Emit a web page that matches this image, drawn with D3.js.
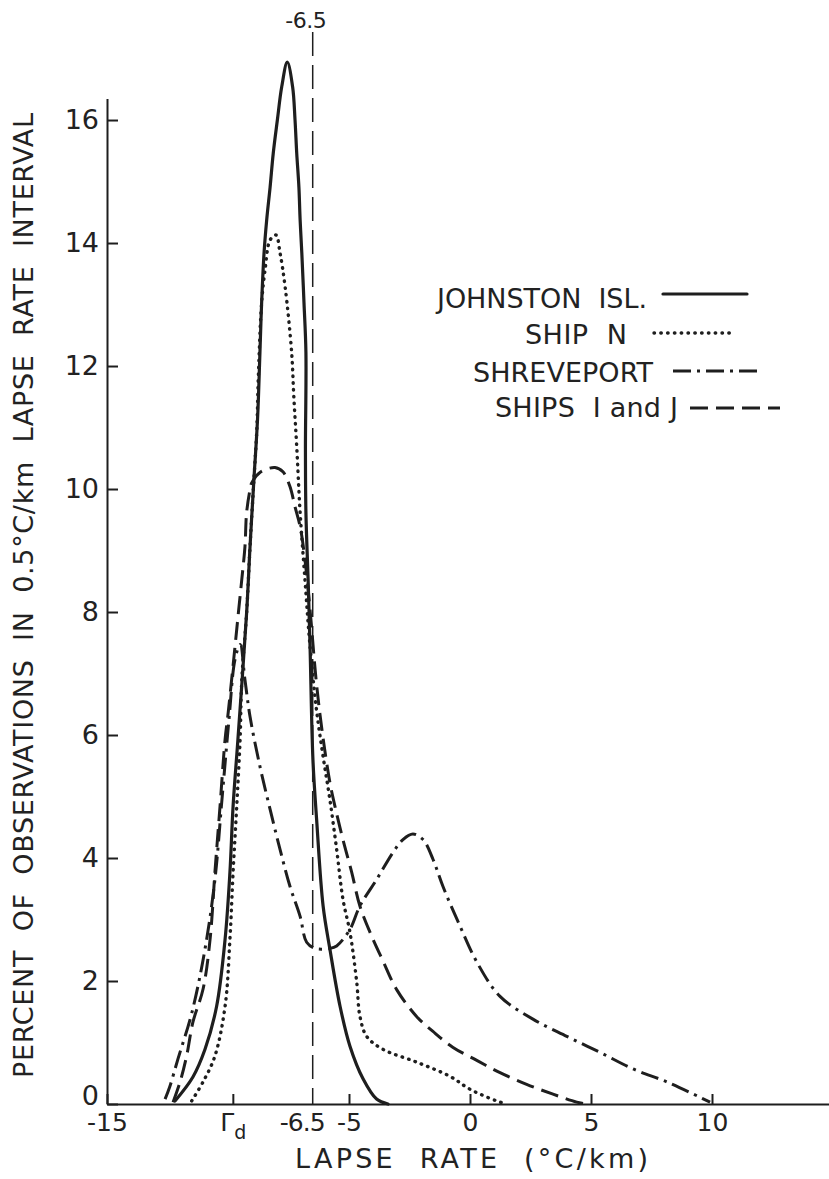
<!DOCTYPE html>
<html><head><meta charset="utf-8">
<script src="https://cdn.jsdelivr.net/npm/d3@7/dist/d3.min.js"></script>
<style>
html,body{margin:0;padding:0;background:#fff;}
svg{display:block;font-family:"DejaVu Sans",sans-serif;}
text{fill:#222;}
</style></head><body>
<svg id="chart" width="829" height="1179"></svg>
<script>
// ---------- DATA ----------
const xTickValues = [-15, -9.8, -6.5, -5, 0, 5, 10];
const xTickLabels = ["-15", "Γd", "-6.5", "-5", "0", "5", "10"];
const yTickValues = [0, 2, 4, 6, 8, 10, 12, 14, 16];
const yTickLabels = ["0", "2", "4", "6", "8", "10", "12", "14", "16"];
const seriesNames = ["JOHNSTON  ISL.", "SHIP  N", "SHREVEPORT", "SHIPS  I and J"];
const referenceRate = -6.5;
const referenceLabel = "-6.5";
const xTitle = "LAPSE  RATE  (°C/km)";
const yTitle = "PERCENT  OF  OBSERVATIONS  IN  0.5°C/km  LAPSE  RATE  INTERVAL";

// Johnston Isl. (solid)
const johnstonRate = [-12.19,-11.45,-10.95,-10.47,-10.12,-9.92,-9.79,-9.59,-9.23,-9.09,-8.93,-8.78,-8.68,-8.61,-8.51,-8.4,-8.26,-8.13,-7.96,-7.78,-7.55,-7.33,-7.23,-7.16,-7.07,-7.02,-6.95,-6.86,-6.78,-6.8,-6.78,-6.69,-6.61,-6.49,-6.33,-6.07,-5.79,-5.37,-4.96,-4.42,-3.86,-3.39];
const johnstonPct  = [0.05,0.44,0.89,1.59,2.68,3.77,4.84,5.93,7.99,9.06,10.15,11.13,12.22,13.03,13.84,14.38,14.91,15.46,16.0,16.54,16.94,16.54,16.0,15.46,14.91,14.38,13.84,13.03,12.22,10.64,9.62,8.53,7.44,5.6,4.58,3.22,2.52,1.59,0.94,0.41,0.08,0];

// Ship N (dotted)
const shipNRate = [-11.5,-11.03,-10.54,-10.12,-9.92,-9.79,-9.64,-9.5,-9.43,-9.23,-9.09,-8.93,-8.81,-8.75,-8.61,-8.47,-8.26,-8.02,-7.85,-7.64,-7.37,-7.28,-7.16,-7.02,-6.82,-6.61,-6.33,-6.07,-5.79,-5.51,-5.25,-4.96,-4.68,-4.55,-4.27,-3.6,-2.2,-0.83,0,1.1,1.52];
const shipNPct  = [0.05,0.36,0.78,1.59,2.68,3.77,4.84,5.93,6.9,7.99,9.06,10.15,10.96,11.78,13.03,13.56,14.05,14.13,13.84,13.29,12.22,11.5,10.69,9.62,8.53,7.44,6.37,5.65,4.95,4.14,3.33,2.79,1.98,1.43,1.1,0.89,0.68,0.45,0.24,0.05,0];

// Shreveport (dash-dot)
const shreveRate = [-12.6,-12.4,-12.07,-11.49,-10.95,-10.54,-10.25,-9.96,-9.71,-9.5,-9.3,-9.09,-8.68,-8.26,-7.85,-7.44,-7.02,-6.75,-6.4,-5.79,-5.51,-4.96,-4.55,-3.86,-3.18,-2.77,-2.36,-1.94,-1.53,-1.12,-0.41,0.28,1.24,2.6,4.0,5.37,6.74,8.13,9.5,9.92];
const shrevePct  = [0.08,0.29,0.73,1.49,2.52,3.65,4.95,6.25,7.23,7.47,6.9,6.3,5.49,4.79,4.14,3.54,3.05,2.63,2.53,2.53,2.57,2.84,3.22,3.65,4.09,4.3,4.39,4.3,3.98,3.54,2.89,2.31,1.75,1.38,1.1,0.84,0.57,0.36,0.11,0.03];

// Ships I and J (dashed)
const shipsIJRate = [-12.27,-11.98,-11.71,-11.45,-11.03,-10.74,-10.54,-10.33,-10.12,-9.99,-9.85,-9.71,-9.57,-9.43,-9.3,-9.23,-9.09,-9.02,-8.68,-8.06,-7.73,-7.44,-7.23,-7.02,-6.82,-6.61,-6.36,-6.12,-5.79,-5.58,-5.25,-4.89,-4.55,-4.13,-3.6,-3.03,-2.2,-1.53,-0.7,0.28,1.24,2.34,3.43,4.41,4.82];
const shipsIJPct  = [0.03,0.36,0.78,1.33,1.87,2.68,3.77,4.84,5.93,6.37,6.9,7.44,7.99,8.53,9.06,9.62,9.99,10.1,10.27,10.35,10.28,10.04,9.71,9.39,8.85,8.04,6.9,6.09,5.23,4.84,4.3,3.77,3.22,2.79,2.33,1.86,1.42,1.18,0.92,0.71,0.51,0.32,0.16,0.03,0];

// ---------- DRAW ----------
const ink = "#1e1e1e";
const svg = d3.select("#chart");
svg.append("rect").attr("width", 829).attr("height", 1179).attr("fill", "#fff");

const x = d3.scaleLinear().domain([-15, 15]).range([107, 833]);
const y = d3.scaleLinear().domain([0, 16.35]).range([1104, 98.5]);

// x axis
const gx = svg.append("g").attr("transform", `translate(0,${y(0)})`)
  .call(d3.axisBottom(x).tickValues(xTickValues).tickSize(-10).tickSizeOuter(0).tickPadding(9)
    .tickFormat((d, i) => xTickLabels[i]));
gx.attr("font-size", 25);
gx.selectAll("text").attr("font-size", 25).attr("font-family", "DejaVu Sans").attr("fill", ink);
gx.selectAll(".tick").filter(d => d === referenceRate).select("line").remove();
gx.selectAll(".tick").filter(d => d === referenceRate).select("text").attr("dx", -11).attr("letter-spacing", -1);
gx.selectAll(".tick").filter(d => d === -9.8).select("text").each(function() {
  const t = d3.select(this); const s = t.text(); t.text("");
  t.append("tspan").text(s[0]);
  t.append("tspan").attr("font-size", 19).attr("dy", 8).text(s.slice(1));
});
// y axis
const gy = svg.append("g").attr("transform", `translate(${x(-15)},0)`)
  .call(d3.axisLeft(y).tickValues(yTickValues).tickSize(-11).tickSizeOuter(0).tickPadding(8)
    .tickFormat((d, i) => yTickLabels[i]));
gy.attr("font-size", 27);
gy.selectAll("text").attr("font-size", 27).attr("font-family", "DejaVu Sans").attr("fill", ink);
gy.selectAll(".tick").filter(d => d === 0).select("text").attr("dy", "0em");
[gx, gy].forEach(g => {
  g.select(".domain").attr("stroke", ink).attr("stroke-width", 2);
  g.selectAll(".tick line").attr("stroke", ink).attr("stroke-width", 2);
});

// reference line at -6.5
svg.append("line").attr("x1", x(referenceRate)).attr("x2", x(referenceRate))
  .attr("y1", 32).attr("y2", y(0)).attr("stroke", ink).attr("stroke-width", 1.5)
  .attr("stroke-dasharray", "24 9");
svg.append("text").attr("x", x(referenceRate) - 7).attr("y", 28).attr("text-anchor", "middle")
  .attr("font-size", 22).attr("letter-spacing", -0.5).text(referenceLabel);

// curves
const line = d3.line().x(d => x(d[0])).y(d => y(d[1])).curve(d3.curveCatmullRom.alpha(0.5));
const styles = [
  {dash: null, w: 3.2, cap: "round"},
  {dash: "0.5 6.3", w: 3.4, cap: "round"},
  {dash: "18 6 3 6", w: 3, cap: "butt"},
  {dash: "18 8", w: 3, cap: "butt"}
];
const series = [
  d3.zip(johnstonRate, johnstonPct),
  d3.zip(shipNRate, shipNPct),
  d3.zip(shreveRate, shrevePct),
  d3.zip(shipsIJRate, shipsIJPct)
];
series.forEach((s, i) => {
  svg.append("path").datum(s).attr("d", line).attr("fill", "none")
    .attr("stroke", ink).attr("stroke-width", styles[i].w)
    .attr("stroke-linecap", styles[i].cap).attr("stroke-linejoin", "round")
    .attr("stroke-dasharray", styles[i].dash);
});

// legend
const legTextRight = [647, 627, 653, 678];
const legTextWidth = [210, 102, 180, 183];
const legBaseline = [308, 344, 382, 417];
const legX1 = [663, 654, 673, 690];
const legX2 = [747, 733, 757, 780];
const legY = [294, 333, 371, 408];
seriesNames.forEach((n, i) => {
  svg.append("text").attr("x", legTextRight[i] - legTextWidth[i]).attr("y", legBaseline[i])
    .attr("font-size", 27).style("white-space", "pre")
    .attr("textLength", legTextWidth[i]).attr("lengthAdjust", "spacing").text(n);
  svg.append("line").attr("x1", legX1[i]).attr("x2", legX2[i]).attr("y1", legY[i]).attr("y2", legY[i])
    .attr("stroke", ink).attr("stroke-width", styles[i].w)
    .attr("stroke-linecap", styles[i].cap).attr("stroke-dasharray", styles[i].dash);
});

// axis titles
svg.append("text").attr("x", 295).attr("y", 1168).attr("font-size", 27)
  .style("white-space", "pre").attr("textLength", 353).attr("lengthAdjust", "spacing").text(xTitle);
svg.append("text").attr("transform", "translate(33,1078) rotate(-90)").attr("font-size", 27)
  .style("white-space", "pre").attr("textLength", 965).attr("lengthAdjust", "spacing").text(yTitle);
</script>
</body></html>
